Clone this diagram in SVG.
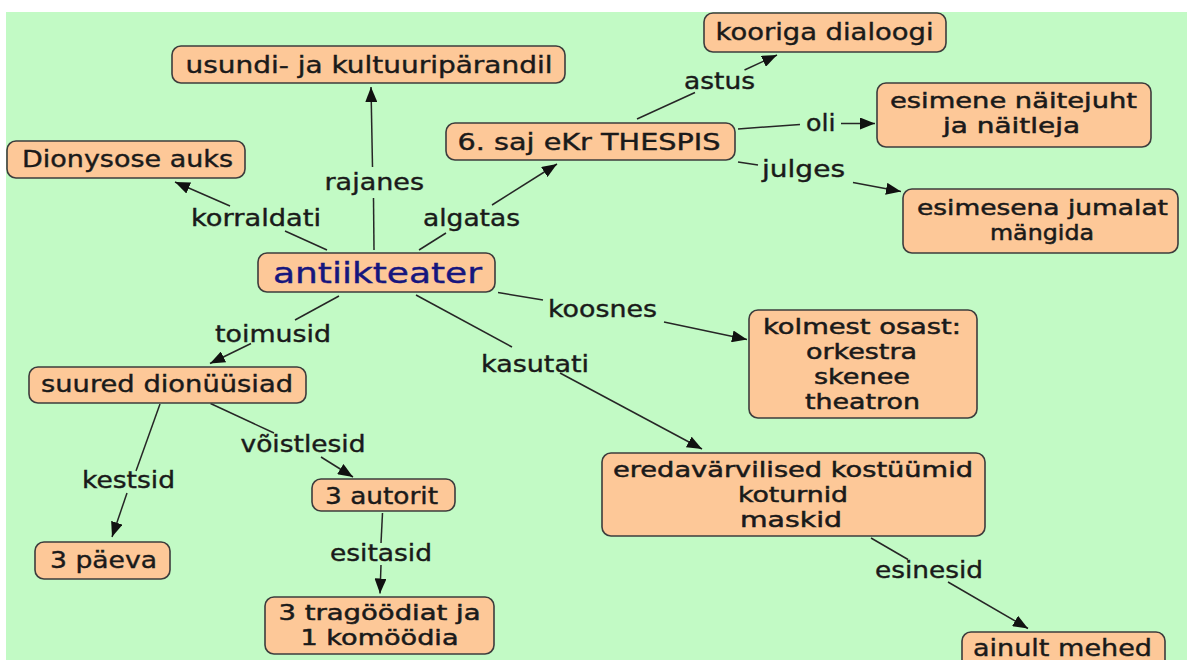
<svg xmlns="http://www.w3.org/2000/svg" width="1187" height="660" viewBox="0 0 1187 660">
<defs>
<style>
.n rect{fill:#fdc898;stroke:#3c3c3c;stroke-width:1.6}
.n text,.lbl text{font-family:"DejaVu Sans","Liberation Sans",sans-serif;font-size:23px;fill:#1a1a1a;stroke:#1a1a1a;stroke-width:0.4}
.n text.ml{font-size:21.4px;stroke-width:0.5}
.n text.main{font-size:29px;fill:#16167e;stroke:#16167e}
.c path{fill:none;stroke:#262626;stroke-width:1.5}
</style>
<marker id="ah" viewBox="0 0 15 12" refX="15" refY="6" markerWidth="15" markerHeight="12" markerUnits="userSpaceOnUse" orient="auto">
<path d="M0,0 L15,6 L0,12 z" fill="#111"/>
</marker>
</defs>
<rect x="0" y="0" width="1187" height="660" fill="#ffffff"/>
<rect x="6" y="12" width="1181" height="648" fill="#c2fac5"/>

<g id="connectors" class="c">
<path d="M327,250 L285,231"/><path d="M230,206 L175,182" marker-end="url(#ah)"/>
<path d="M374,250 L373.5,198"/><path d="M372.5,167 L371,87" marker-end="url(#ah)"/>
<path d="M419,250 L446,233"/><path d="M492,205 L557,164" marker-end="url(#ah)"/>
<path d="M637,119 L695,92.5"/><path d="M744.5,70 L777,55" marker-end="url(#ah)"/>
<path d="M738,129 L800,124.5"/><path d="M841,123.5 L875,123.5" marker-end="url(#ah)"/>
<path d="M738,162 L758,165"/><path d="M853,182.5 L901,191.5" marker-end="url(#ah)"/>
<path d="M498,292.5 L543,300"/><path d="M664,322 L747,339.5" marker-end="url(#ah)"/>
<path d="M416,295 L512,347"/><path d="M560,373 L702,449" marker-end="url(#ah)"/>
<path d="M339,296 L295,320"/><path d="M251,343.5 L210,363.5" marker-end="url(#ah)"/>
<path d="M160,404 L136,471"/><path d="M127,493 L112,537" marker-end="url(#ah)"/>
<path d="M210.5,403.5 L274,433"/><path d="M321,457 L353,477" marker-end="url(#ah)"/>
<path d="M382.5,513 L381,543"/><path d="M381,565 L380,593.5" marker-end="url(#ah)"/>
<path d="M871,538 L908,559.5"/><path d="M948,582 L1028,628.5" marker-end="url(#ah)"/>
</g>

<g id="labels" class="lbl">
<text x="191" y="226" textLength="130" lengthAdjust="spacingAndGlyphs">korraldati</text>
<text x="324.5" y="190" textLength="99.5" lengthAdjust="spacingAndGlyphs">rajanes</text>
<text x="423" y="226" textLength="97" lengthAdjust="spacingAndGlyphs">algatas</text>
<text x="684" y="89" textLength="71" lengthAdjust="spacingAndGlyphs">astus</text>
<text x="806" y="130.5" textLength="29.5" lengthAdjust="spacingAndGlyphs">oli</text>
<text x="762" y="176.5" textLength="83" lengthAdjust="spacingAndGlyphs">julges</text>
<text x="548" y="316.5" textLength="109" lengthAdjust="spacingAndGlyphs">koosnes</text>
<text x="215" y="341.5" textLength="116" lengthAdjust="spacingAndGlyphs">toimusid</text>
<text x="481" y="371.5" textLength="108" lengthAdjust="spacingAndGlyphs">kasutati</text>
<text x="240.5" y="451.5" textLength="125" lengthAdjust="spacingAndGlyphs">võistlesid</text>
<text x="82" y="488" textLength="93" lengthAdjust="spacingAndGlyphs">kestsid</text>
<text x="330" y="560.5" textLength="102" lengthAdjust="spacingAndGlyphs">esitasid</text>
<text x="875" y="578" textLength="108" lengthAdjust="spacingAndGlyphs">esinesid</text>
</g>

<g id="n-usundi" class="n"><rect x="172" y="46" width="393" height="37" rx="9"/>
<text x="185.5" y="73" textLength="367" lengthAdjust="spacingAndGlyphs">usundi- ja kultuuripärandil</text></g>
<g id="n-dionysose" class="n"><rect x="7" y="141" width="238" height="37" rx="9"/>
<text x="22" y="167" textLength="211" lengthAdjust="spacingAndGlyphs">Dionysose auks</text></g>
<g id="n-thespis" class="n"><rect x="446" y="123" width="289" height="37" rx="9"/>
<text x="457.5" y="149.5" textLength="263" lengthAdjust="spacingAndGlyphs">6. saj eKr THESPIS</text></g>
<g id="n-kooriga" class="n"><rect x="704" y="13" width="242" height="39" rx="9"/>
<text x="715.5" y="40" textLength="218" lengthAdjust="spacingAndGlyphs">kooriga dialoogi</text></g>
<g id="n-esimene" class="n"><rect x="877" y="83" width="274" height="64" rx="9"/>
<text class="ml" x="890" y="108" textLength="247" lengthAdjust="spacingAndGlyphs">esimene näitejuht</text>
<text class="ml" x="943" y="133" textLength="137" lengthAdjust="spacingAndGlyphs">ja näitleja</text></g>
<g id="n-esimesena" class="n"><rect x="903" y="189" width="275" height="64" rx="9"/>
<text class="ml" x="917" y="215" textLength="251" lengthAdjust="spacingAndGlyphs">esimesena jumalat</text>
<text class="ml" x="990" y="240" textLength="104" lengthAdjust="spacingAndGlyphs">mängida</text></g>
<g id="n-antiikteater" class="n"><rect x="258" y="253" width="237" height="39" rx="9"/>
<text class="main" x="273" y="283" textLength="209" lengthAdjust="spacingAndGlyphs">antiikteater</text></g>
<g id="n-kolmest" class="n"><rect x="749" y="310" width="228" height="108" rx="9"/>
<text class="ml" x="763" y="334" textLength="198" lengthAdjust="spacingAndGlyphs">kolmest osast:</text>
<text class="ml" x="806" y="359" textLength="111" lengthAdjust="spacingAndGlyphs">orkestra</text>
<text class="ml" x="814" y="384" textLength="96" lengthAdjust="spacingAndGlyphs">skenee</text>
<text class="ml" x="805" y="409" textLength="115" lengthAdjust="spacingAndGlyphs">theatron</text></g>
<g id="n-suured" class="n"><rect x="29" y="367" width="277" height="36" rx="9"/>
<text x="41" y="392" textLength="252" lengthAdjust="spacingAndGlyphs">suured dionüüsiad</text></g>
<g id="n-autorit" class="n"><rect x="312" y="479" width="143" height="32" rx="9"/>
<text x="325" y="504" textLength="113" lengthAdjust="spacingAndGlyphs">3 autorit</text></g>
<g id="n-paeva" class="n"><rect x="35" y="542" width="135" height="37" rx="9"/>
<text x="50" y="568" textLength="107" lengthAdjust="spacingAndGlyphs">3 päeva</text></g>
<g id="n-tragoodiat" class="n"><rect x="265" y="597" width="229" height="57" rx="9"/>
<text class="ml" x="278.5" y="620" textLength="202" lengthAdjust="spacingAndGlyphs">3 tragöödiat ja</text>
<text class="ml" x="300.5" y="645" textLength="158" lengthAdjust="spacingAndGlyphs">1 komöödia</text></g>
<g id="n-ereda" class="n"><rect x="602" y="453" width="383" height="83" rx="9"/>
<text class="ml" x="613" y="476.5" textLength="360" lengthAdjust="spacingAndGlyphs">eredavärvilised kostüümid</text>
<text class="ml" x="738" y="501.5" textLength="110" lengthAdjust="spacingAndGlyphs">koturnid</text>
<text class="ml" x="740" y="526.5" textLength="102" lengthAdjust="spacingAndGlyphs">maskid</text></g>
<g id="n-ainult" class="n"><rect x="962" y="632" width="203" height="40" rx="9"/>
<text x="973" y="656" textLength="179" lengthAdjust="spacingAndGlyphs">ainult mehed</text></g>
</svg>
